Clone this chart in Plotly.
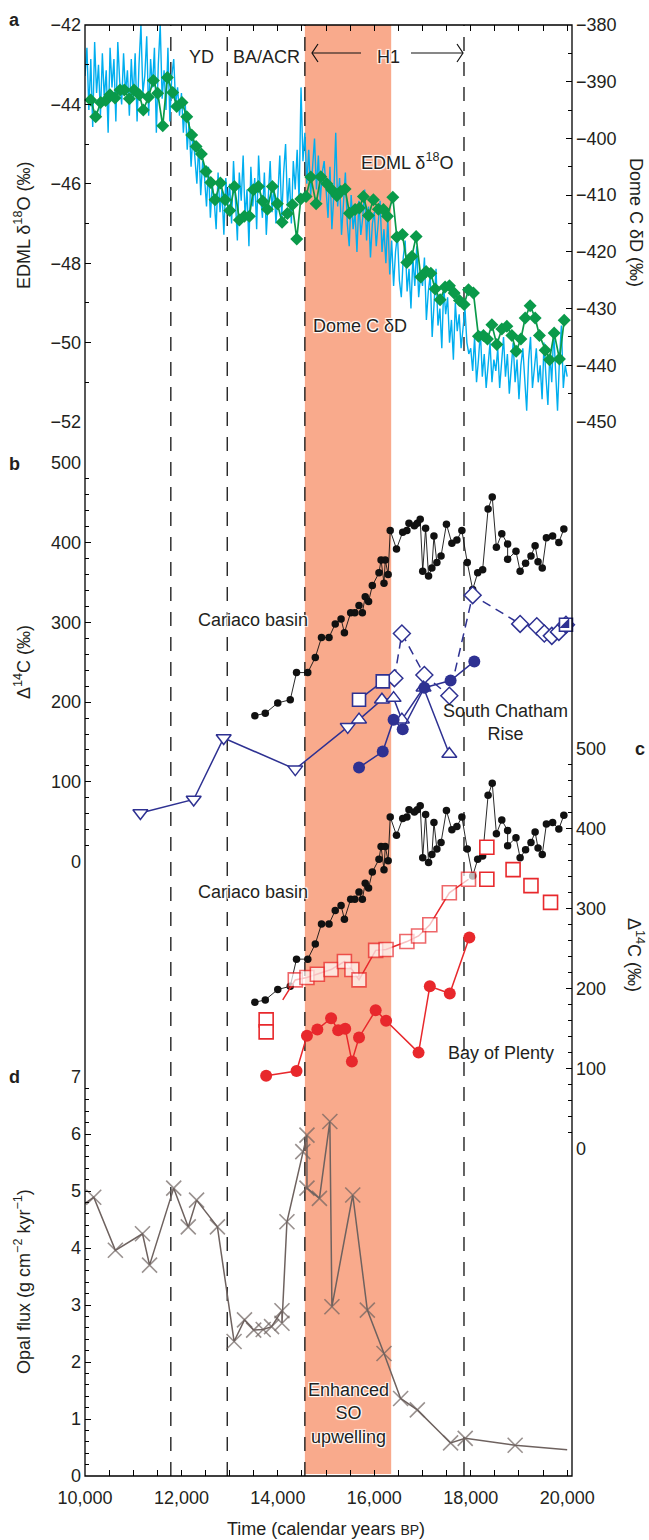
import plotly.graph_objects as go

# ---------------- DATA ----------------
# Panel a: EDML d18O (green diamonds), years BP and permil
edml_t = [10118, 10222, 10325, 10429, 10519, 10622, 10726, 10816, 10920, 11017, 11127, 11210, 11314, 11418, 11508,
          11612, 11708, 11819, 11902, 12012, 12110, 12213, 12303, 12413, 12510, 12608, 12697, 12807, 12905, 13002,
          13098, 13201, 13305, 13409, 13492, 13596, 13687, 13782, 13886, 13990, 14087, 14197, 14301, 14392, 14475,
          14585, 14683, 14793, 14890, 15015, 15118, 15222, 15305, 15394, 15484, 15602, 15691, 15774, 15878, 15981,
          16085, 16189, 16272, 16384, 16467, 16583, 16674, 16778, 16867, 16964, 17075, 17172, 17261, 17365, 17469,
          17558, 17656, 17766, 17863, 17953, 18056, 18160, 18264, 18347, 18438, 18541, 18645, 18749, 18853, 18942,
          19040, 19129, 19232, 19336, 19425, 19544, 19633, 19730, 19840, 19938]
edml_v = [-43.89, -44.31, -43.95, -43.90, -43.76, -43.84, -43.64, -43.64, -43.86, -43.64, -43.76, -44.14, -43.82, -43.40, -43.72,
          -44.54, -43.32, -43.70, -44.05, -43.95, -44.31, -44.77, -45.06, -45.25, -45.69, -45.97, -46.40, -45.98, -46.40, -46.67,
          -46.07, -46.91, -46.82, -46.82, -46.15, -46.07, -46.44, -46.64, -46.07, -46.50, -46.97, -46.75, -46.53, -47.39, -46.38,
          -46.32, -45.83, -46.50, -45.82, -46.00, -46.15, -46.30, -46.19, -46.13, -46.74, -46.65, -46.61, -46.32, -46.80, -46.40,
          -46.64, -46.65, -46.82, -46.34, -47.34, -47.28, -47.98, -47.83, -47.33, -48.35, -48.21, -48.25, -48.65, -48.92, -48.60,
          -48.57, -48.75, -48.94, -49.04, -48.67, -48.75, -49.84, -49.82, -49.91, -49.55, -50.05, -49.66, -49.59, -49.82, -50.22,
          -49.91, -49.38, -49.07, -49.38, -49.82, -50.19, -50.43, -49.76, -50.41, -49.44]

# Panel a: Dome C dD (blue line), sampled every 40 years from 10,000 to 20,000
domec_t = list(range(10000, 20001, 40))
domec_v = [
    -389, -384, -395, -386, -398, -383, -392, -387, -396, -385, -393, -388, -399, -384, -391, -386, -397, -383, -390, -394, -385, -392, -388, -396, -386,
    -393, -385, -397, -387, -380, -392, -389, -382, -396, -386, -391, -384, -399, -387, -380, -393, -388, -395, -384, -397, -389, -386, -394, -391, -396,
    -392, -399, -394, -402, -397, -405, -399, -403, -408, -401, -410, -404, -407, -412, -405, -414, -408, -411, -416, -406, -413, -409, -417, -407, -412,
    -408, -415, -404, -412, -418, -406, -411, -403, -414, -409, -419, -405, -412, -407, -416, -403, -410, -414, -406, -417, -409, -404, -413, -408, -415,
    -410, -403, -414, -406, -401, -412, -407, -415, -404, -409, -402, -411, -391, -404, -399, -408, -402, -410, -405, -400, -409, -403, -411, -406, -404,
    -409, -414, -405, -416, -410, -399, -412, -407, -417, -411, -406, -415, -419, -410, -416, -413, -420, -411, -417, -414, -409, -418, -412, -421, -415,
    -413, -419, -415, -411, -420, -416, -422, -414, -424, -418, -426, -420, -417, -425, -428, -421, -418, -427, -423, -430, -421, -426, -419, -428, -424,
    -426, -421, -432, -427, -424, -435, -429, -423, -433, -430, -437, -426, -431, -428, -436, -432, -439, -429, -434, -431, -437, -433, -430, -436, -438,
    -437, -441, -435, -443, -439, -434, -442, -438, -444, -440, -436, -443, -439, -441, -437, -444, -440, -435, -442, -438, -445, -441, -436, -443, -439,
    -446, -440, -437, -443, -448, -439, -435, -444, -441, -437, -443, -440, -446, -436, -442, -447, -438, -443, -434, -441, -448, -439, -433, -444, -440,
    -442]

# Panels b and c: Cariaco basin D14C (black dots)
cariaco_t = [13523, 13739, 13998, 14257, 14387, 14620, 14776, 14905, 15061, 15190, 15311, 15380, 15510, 15596, 15683,
             15752, 15812, 15881, 15959, 16097, 16140, 16201, 16227, 16287, 16330, 16460, 16589, 16676, 16719, 16831,
             16892, 16952, 17004, 17064, 17125, 17194, 17237, 17298, 17384, 17496, 17609, 17712, 17816, 17928, 18040,
             18144, 18247, 18360, 18446, 18532, 18644, 18765, 18765, 18938, 19024, 19137, 19249, 19335, 19396, 19483,
             19569, 19698, 19827, 19931]
cariaco_v = [183, 186, 199, 203, 237, 237, 256, 281, 281, 298, 304, 287, 312, 312, 321,
             312, 332, 326, 346, 362, 378, 349, 378, 360, 415, 392, 413, 415, 424, 421,
             424, 429, 364, 418, 358, 368, 408, 375, 383, 423, 399, 403, 415, 375, 341,
             362, 366, 442, 457, 394, 411, 398, 379, 389, 364, 374, 383, 396, 376, 368,
             406, 408, 400, 417]

# Panel b: South Chatham Rise (blue)
scr_tri_t = [11149, 12254, 12876, 14361, 15449, 15683, 16158, 16400, 16572, 17021, 17556]
scr_tri_v = [61, 78, 155, 116, 169, 178, 203, 205, 178, 218, 135]
scr_tri_kind = ["down", "down", "down", "down", "down", "up", "up", "up", "up", "up", "up"]
scr_sq_t = [15683, 16175]
scr_sq_v = [203, 226]
scr_circ_t = [15683, 16175, 16400, 16589, 17038, 17582, 18074]
scr_circ_v = [118, 138, 178, 166, 218, 227, 251]
scr_dia_t = [16417, 16572, 17038, 17556, 18040, 19024, 19370, 19526, 19681, 19828, 19975]
scr_dia_v = [230, 286, 234, 208, 334, 298, 295, 286, 283, 288, 297]

# Panel c: Bay of Plenty (red)
bop_sq_t = [14101, 14361, 14603, 14819, 15104, 15380, 15535, 15683, 16028, 16244, 16676, 16918, 17151, 17556, 17954]
bop_sq_v = [186, 211, 214, 218, 224, 234, 224, 211, 248, 249, 259, 266, 280, 320, 337]
bop_sq_extra_t = [13757, 13757, 18334, 18334, 18878, 19249, 19655]
bop_sq_extra_v = [161, 146, 377, 337, 349, 329, 308]
bop_circ_t = [13757, 14387, 14603, 14819, 15104, 15251, 15397, 15535, 15683, 16028, 16244, 16918, 17151, 17565, 17971]
bop_circ_v = [91, 97, 141, 149, 163, 148, 150, 109, 139, 173, 160, 120, 203, 194, 264]

# Panel d: opal flux (g cm-2 kyr-1)
opal_t = [10000, 10181, 10630, 11192, 11339, 11840, 12142, 12314, 12746, 13092, 13308, 13498, 13696, 13869, 14085,
          14085, 14188, 14517, 14603, 14603, 14862, 15078, 15121, 15553, 15855, 16201, 16546, 16892, 17582, 17885,
          18921, 20000]
opal_v = [4.78, 4.89, 3.96, 4.25, 3.70, 5.05, 4.37, 4.84, 4.37, 2.36, 2.74, 2.56, 2.57, 2.62, 2.90,
          2.68, 4.46, 5.69, 5.98, 5.05, 4.87, 6.22, 2.97, 4.93, 2.91, 2.15, 1.36, 1.16, 0.58, 0.66,
          0.54, 0.46]
opal_marked = [False] + [True] * 30 + [False]

# Event boundaries (years BP)
dashed_years = [11780, 12950, 14560, 17860]
shade_years = [14560, 16350]

# ---------------- LAYOUT HELPERS ----------------
W, H = 649, 1540
ML, MR, MT, MB = 85, 77, 25, 64
PW, PH = W - ML - MR, H - MT - MB


def px(xp):
    return (xp - ML) / PW


def py(yp):
    return (H - MB - yp) / PH


FONT = "Liberation Sans, Arial, Helvetica, sans-serif"
TXT = "#231F20"
GREEN = "#0A9A4A"
CYAN = "#00AEEF"
NAVY = "#2E3192"
RED = "#E8282C"
OPAL = "#6E625F"
SHADE = "#F9AA8C"
HALO = "1px 1px 1px white, -1px -1px 1px white, 1px -1px 1px white, -1px 1px 1px white"

fig = go.Figure()

# Panel a
fig.add_trace(go.Scatter(x=domec_t, y=domec_v, mode="lines", line=dict(color=CYAN, width=1.4),
                         xaxis="x", yaxis="y", hoverinfo="skip"))
fig.add_trace(go.Scatter(x=edml_t, y=edml_v, mode="lines+markers", line=dict(color=GREEN, width=1.7),
                         marker=dict(symbol="diamond", size=10, color=GREEN), cliponaxis=False,
                         xaxis="x", yaxis="y2"))
# dummy trace so the top (mirror) axis exists
fig.add_trace(go.Scatter(x=[None], y=[None], xaxis="x2", yaxis="y", hoverinfo="skip"))

# Panel b
fig.add_trace(go.Scatter(x=cariaco_t, y=cariaco_v, mode="lines+markers", line=dict(color="#111111", width=0.9),
                         marker=dict(symbol="circle", size=7.5, color="#111111"), cliponaxis=False,
                         xaxis="x", yaxis="y3"))
fig.add_trace(go.Scatter(x=scr_dia_t, y=scr_dia_v, mode="lines+markers",
                         line=dict(color=NAVY, width=1.5, dash="9px,6px"),
                         marker=dict(symbol="diamond", size=13, color="white", line=dict(width=1.5, color=NAVY)),
                         cliponaxis=False, xaxis="x", yaxis="y3"))
fig.add_trace(go.Scatter(x=scr_tri_t, y=scr_tri_v, mode="lines+markers", line=dict(color=NAVY, width=1.5),
                         marker=dict(symbol=["triangle-down" if k == "down" else "triangle-up" for k in scr_tri_kind],
                                     size=13, color="white", line=dict(width=1.5, color=NAVY)),
                         cliponaxis=False, xaxis="x", yaxis="y3"))
fig.add_trace(go.Scatter(x=scr_sq_t, y=scr_sq_v, mode="lines+markers", line=dict(color=NAVY, width=1.5),
                         marker=dict(symbol="square", size=13, color="white", line=dict(width=1.6, color=NAVY)),
                         cliponaxis=False, xaxis="x", yaxis="y3"))
fig.add_trace(go.Scatter(x=scr_circ_t, y=scr_circ_v, mode="lines+markers", line=dict(color=NAVY, width=1.5),
                         marker=dict(symbol="circle", size=12, color=NAVY), cliponaxis=False,
                         xaxis="x", yaxis="y3"))
fig.add_trace(go.Scatter(x=scr_dia_t[-1:], y=scr_dia_v[-1:], mode="markers",
                         marker=dict(symbol="square", size=13, color="white", line=dict(width=1.6, color=NAVY)),
                         cliponaxis=False, xaxis="x", yaxis="y3"))
fig.add_trace(go.Scatter(x=scr_dia_t[-1:], y=scr_dia_v[-1:], mode="markers",
                         marker=dict(symbol="triangle-se", size=11, color=NAVY), cliponaxis=False,
                         xaxis="x", yaxis="y3"))

# Panel c
fig.add_trace(go.Scatter(x=cariaco_t, y=cariaco_v, mode="lines+markers", line=dict(color="#111111", width=0.9),
                         marker=dict(symbol="circle", size=7.5, color="#111111"), cliponaxis=False,
                         xaxis="x", yaxis="y4"))
fig.add_trace(go.Scatter(x=bop_sq_t, y=bop_sq_v, mode="lines+markers", line=dict(color=RED, width=1.5),
                         marker=dict(symbol="square", size=[0] + [14] * (len(bop_sq_t) - 1), color="white",
                                     line=dict(width=1.6, color=RED)),
                         cliponaxis=False, xaxis="x", yaxis="y4"))
fig.add_trace(go.Scatter(x=bop_sq_extra_t, y=bop_sq_extra_v, mode="markers",
                         marker=dict(symbol="square", size=14, color="white", line=dict(width=1.6, color=RED)),
                         cliponaxis=False, xaxis="x", yaxis="y4"))
fig.add_trace(go.Scatter(x=bop_circ_t, y=bop_circ_v, mode="lines+markers", line=dict(color=RED, width=1.5),
                         marker=dict(symbol="circle", size=12, color=RED), cliponaxis=False,
                         xaxis="x", yaxis="y4"))

# Panel d
fig.add_trace(go.Scatter(x=opal_t, y=opal_v, mode="lines+markers", line=dict(color=OPAL, width=1.5),
                         marker=dict(symbol="x-thin-open", size=[15 if m else 0 for m in opal_marked],
                                     color=OPAL, line=dict(width=1.6, color=OPAL)),
                         cliponaxis=False, xaxis="x", yaxis="y5"))

# ---------------- AXES ----------------
tickfont = dict(family=FONT, size=18, color=TXT)
common_y = dict(showgrid=False, zeroline=False, showline=False, ticks="inside", ticklen=6, tickwidth=1,
                tickcolor="black", tickfont=tickfont, anchor="x", ticklabelstandoff=3)


def ya(**kw):
    d = dict(common_y)
    d.update(kw)
    return d


fig.update_layout(
    width=W, height=H, margin=dict(l=ML, r=MR, t=MT, b=MB, pad=0),
    paper_bgcolor="white", plot_bgcolor="rgba(0,0,0,0)", showlegend=False,
    font=dict(family=FONT, size=18, color=TXT),
    xaxis=dict(range=[10000, 20100], domain=[0, 1], anchor="y5", showgrid=False, zeroline=False, showline=False,
               ticks="inside", ticklen=6, tickwidth=1, tickcolor="black", tickmode="linear", tick0=10000, dtick=2000,
               tickformat=",d", tickfont=tickfont, ticklabelstandoff=9,
               minor=dict(dtick=500, tick0=10000, ticks="inside", ticklen=6, tickwidth=1, tickcolor="black")),
    xaxis2=dict(range=[10000, 20100], overlaying="x", side="top", anchor="y", showgrid=False, zeroline=False,
                showline=False, showticklabels=False, ticks="inside", ticklen=6, tickwidth=1, tickcolor="black",
                tickmode="linear", tick0=10000, dtick=500),
    yaxis=ya(domain=[py(422), 1], range=[-450, -380], side="right", tickmode="linear", tick0=-450, dtick=10,
             minor=dict(dtick=5, ticks="inside", ticklen=4, tickcolor="black")),
    yaxis2=ya(overlaying="y", range=[-52, -42], side="left", tickmode="linear", tick0=-52, dtick=2,
              minor=dict(dtick=1, ticks="inside", ticklen=4, tickcolor="black")),
    yaxis3=ya(domain=[py(861.7), py(462.7)], range=[0, 500], side="left", tickmode="linear", tick0=0, dtick=100,
              minor=dict(dtick=20, ticks="inside", ticklen=4, tickcolor="black")),
    yaxis4=ya(domain=[py(1148.5), py(749)], range=[0, 500], side="right", tickmode="linear", tick0=0, dtick=100,
              minor=dict(dtick=20, ticks="inside", ticklen=4, tickcolor="black")),
    yaxis5=ya(domain=[0, py(1077)], range=[0, 7], side="left", tickmode="linear", tick0=0, dtick=1,
              minor=dict(dtick=0.2, ticks="inside", ticklen=4, tickcolor="black")),
)

# ---------------- SHAPES ----------------
shapes = [
    dict(type="rect", xref="x", yref="paper", x0=shade_years[0], x1=shade_years[1], y0=py(1474), y1=1,
         fillcolor=SHADE, line=dict(width=0), layer="below"),
]
for yr in dashed_years:
    shapes.append(dict(type="line", xref="x", yref="paper", x0=yr, x1=yr, y0=0, y1=1,
                       line=dict(color="#111111", width=1.3, dash="14px,11px"), layer="below"))
shapes.append(dict(type="rect", xref="paper", yref="paper", x0=0, x1=1, y0=0, y1=1,
                   line=dict(color="black", width=1.3), fillcolor="rgba(0,0,0,0)", layer="above"))
# H1 arrows
ay_px = 53
for (tip, tail, sgn) in [(312, 361, 1), (463, 411, -1)]:
    shapes.append(dict(type="line", xref="paper", yref="paper", x0=px(tip), x1=px(tail), y0=py(ay_px), y1=py(ay_px),
                       line=dict(color="#111111", width=1.2), layer="above"))
    shapes.append(dict(type="path", xref="paper", yref="paper",
                       path="M {} {} L {} {} L {} {}".format(px(tip + sgn * 6), py(ay_px - 9), px(tip), py(ay_px),
                                                             px(tip + sgn * 6), py(ay_px + 9)),
                       line=dict(color="#111111", width=1.2), layer="above"))
fig.update_layout(shapes=shapes)

# ---------------- ANNOTATIONS ----------------
ann = []


def text(x, y, s, size=18, angle=0, bold=False, halo=False, align="center"):
    f = dict(family=FONT, size=size, color=TXT)
    if bold:
        f["weight"] = "bold"
    if halo:
        f["shadow"] = HALO
    ann.append(dict(x=px(x), y=py(y), xref="paper", yref="paper", text=s, showarrow=False, font=f,
                    textangle=angle, xanchor="center", yanchor="middle", align=align))


text(14, 20, "a", bold=True)
text(14, 464, "b", bold=True)
text(640, 749, "c", bold=True)
text(14, 1077, "d", bold=True)

text(201, 57, "YD")
text(266, 57, "BA/ACR")
text(388, 57, "H1", halo=True)
text(407, 162, "EDML δ<sup>18</sup>O", halo=True)
text(360, 326, "Dome C δD", halo=True)
text(253, 620, "Cariaco basin", halo=True)
text(505, 723, "South Chatham<br>Rise")
text(253, 892, "Cariaco basin", halo=True)
text(501, 1053, "Bay of Plenty")
text(348, 1413, "Enhanced<br>SO<br>upwelling", halo=True)

text(22, 226, "EDML δ<sup>18</sup>O (‰)", angle=-90)
text(636, 222, "Dome C δD (‰)", angle=90)
text(22, 662, "Δ<sup>14</sup>C (‰)", angle=-90)
text(636, 955, "Δ<sup>14</sup>C (‰)", angle=90)
text(22, 1282, "Opal flux (g cm<sup>−2</sup> kyr<sup>−1</sup>)", angle=-90)
text(326, 1529, "Time (calendar years <span style='font-size:14px'>BP</span>)")

fig.update_layout(annotations=ann)

fig.write_html("out.html")
